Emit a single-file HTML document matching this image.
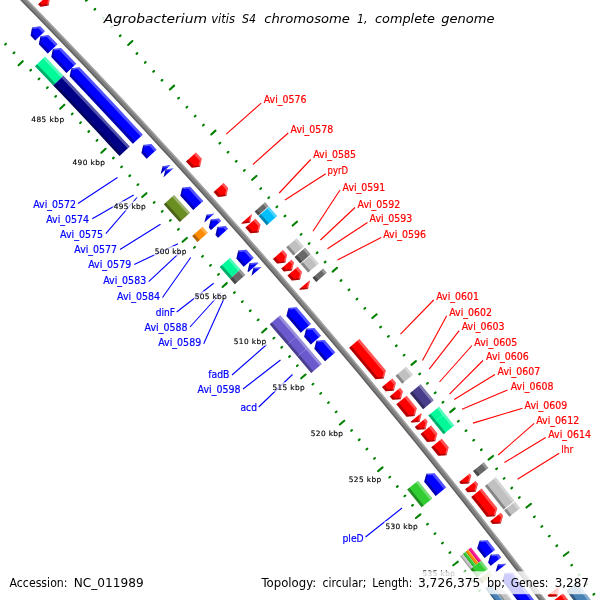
<!DOCTYPE html>
<html><head><meta charset="utf-8"><title>Agrobacterium vitis S4 chromosome 1</title>
<style>html,body{margin:0;padding:0;background:#fff}svg{display:block}</style></head>
<body><svg width="600" height="600" viewBox="0 0 600 600">
<rect width="600" height="600" fill="#fff"/>
<polygon points="35.21,40.38 44.90,31.13 40.24,26.31 32.14,27.57 30.56,35.57" fill="#0000ff"/>
<polygon points="44.90,31.13 40.24,26.31 32.14,27.57 31.82,29.18 38.29,28.18 42.95,32.99" fill="#fff" fill-opacity="0.32"/>
<polygon points="35.21,40.38 30.56,35.57 32.14,27.57 33.83,27.31 32.58,33.64 37.24,38.45" fill="#000" fill-opacity="0.30"/>
<polygon points="47.80,53.46 57.52,44.23 48.58,34.94 40.48,36.19 38.88,44.19" fill="#0000ff"/>
<polygon points="57.52,44.23 48.58,34.94 40.48,36.19 40.16,37.80 46.63,36.81 55.56,46.09" fill="#fff" fill-opacity="0.32"/>
<polygon points="47.80,53.46 38.88,44.19 40.48,36.19 42.17,35.93 40.91,42.26 49.83,51.53" fill="#000" fill-opacity="0.30"/>
<polygon points="66.46,72.96 76.20,63.77 68.62,55.82 61.02,47.88 52.91,49.11 51.30,57.10 58.88,65.03" fill="#0000ff"/>
<polygon points="76.20,63.77 68.62,55.82 61.02,47.88 52.91,49.11 52.59,50.72 59.06,49.74 66.66,57.67 74.24,65.62" fill="#fff" fill-opacity="0.32"/>
<polygon points="66.46,72.96 58.88,65.03 51.30,57.10 52.91,49.11 54.61,48.85 53.33,55.17 60.92,63.10 68.49,71.04" fill="#000" fill-opacity="0.30"/>
<polygon points="34.93,66.19 45.01,56.61 54.21,66.22 63.40,75.84 53.29,85.38 44.12,75.77" fill="#00fa9a"/>
<polygon points="43.05,58.47 45.01,56.61 54.21,66.22 63.40,75.84 61.44,77.70 52.25,68.08" fill="#fff" fill-opacity="0.32"/>
<polygon points="34.93,66.19 36.96,64.26 46.15,73.85 55.32,83.46 53.29,85.38 44.12,75.77" fill="#000" fill-opacity="0.30"/>
<polygon points="132.86,143.75 142.74,134.69 132.26,123.38 121.75,112.09 111.21,100.82 100.65,89.58 90.06,78.36 79.44,67.17 71.33,68.37 69.69,76.36 80.28,87.53 90.85,98.72 101.40,109.94 111.91,121.19 122.40,132.46" fill="#0000ff"/>
<polygon points="142.74,134.69 132.26,123.38 121.75,112.09 111.21,100.82 100.65,89.58 90.06,78.36 79.44,67.17 71.33,68.37 71.00,69.98 77.48,69.02 88.09,80.21 98.67,91.42 109.23,102.66 119.76,113.92 130.27,125.21 140.75,136.52" fill="#fff" fill-opacity="0.32"/>
<polygon points="132.86,143.75 122.40,132.46 111.91,121.19 101.40,109.94 90.85,98.72 80.28,87.53 69.69,76.36 71.33,68.37 73.02,68.12 71.72,74.44 82.32,85.61 92.90,96.81 103.45,108.04 113.97,119.29 124.46,130.56 134.93,141.86" fill="#000" fill-opacity="0.30"/>
<polygon points="53.29,85.38 63.40,75.84 74.54,87.57 85.64,99.32 96.72,111.09 107.76,122.90 118.78,134.73 129.77,146.59 119.53,155.99 108.56,144.15 97.57,132.34 86.54,120.56 75.49,108.81 64.40,97.08" fill="#000086"/>
<polygon points="61.44,77.70 63.40,75.84 74.54,87.57 85.64,99.32 96.72,111.09 107.76,122.90 118.78,134.73 129.77,146.59 127.78,148.42 116.80,136.56 105.78,124.73 94.74,112.93 83.67,101.16 72.57,89.41" fill="#fff" fill-opacity="0.32"/>
<polygon points="53.29,85.38 55.32,83.46 66.44,95.16 77.53,106.90 88.59,118.65 99.62,130.44 110.62,142.26 121.59,154.10 119.53,155.99 108.56,144.15 97.57,132.34 86.54,120.56 75.49,108.81 64.40,97.08" fill="#000" fill-opacity="0.30"/>
<polygon points="146.64,158.71 156.54,149.68 151.35,144.03 143.22,145.10 141.46,153.07" fill="#0000ff"/>
<polygon points="156.54,149.68 151.35,144.03 143.22,145.10 142.87,146.71 149.35,145.85 154.55,151.50" fill="#fff" fill-opacity="0.32"/>
<polygon points="146.64,158.71 141.46,153.07 143.22,145.10 144.92,144.87 143.52,151.18 148.71,156.82" fill="#000" fill-opacity="0.30"/>
<polygon points="160.70,174.06 170.62,165.06 170.62,165.06 162.64,166.25 160.70,174.06" fill="#0000ff"/>
<polygon points="170.62,165.06 170.62,165.06 162.64,166.25 162.25,167.83 168.62,166.88 168.62,166.88" fill="#fff" fill-opacity="0.32"/>
<polygon points="160.70,174.06 160.70,174.06 162.64,166.25 164.31,166.00 162.77,172.18 162.77,172.18" fill="#000" fill-opacity="0.30"/>
<polygon points="163.55,177.20 173.48,168.20 173.48,168.20 165.50,169.38 163.55,177.20" fill="#0000ff"/>
<polygon points="173.48,168.20 173.48,168.20 165.50,169.38 165.11,170.96 171.48,170.01 171.48,170.01" fill="#fff" fill-opacity="0.32"/>
<polygon points="163.55,177.20 163.55,177.20 165.50,169.38 167.16,169.14 165.63,175.32 165.63,175.32" fill="#000" fill-opacity="0.30"/>
<polygon points="193.20,209.95 203.18,201.01 196.76,193.88 190.33,186.76 182.20,187.76 180.37,195.72 186.79,202.83" fill="#0000ff"/>
<polygon points="203.18,201.01 196.76,193.88 190.33,186.76 182.20,187.76 181.83,189.37 188.32,188.56 194.75,195.69 201.17,202.82" fill="#fff" fill-opacity="0.32"/>
<polygon points="193.20,209.95 186.79,202.83 180.37,195.72 182.20,187.76 183.90,187.55 182.45,193.85 188.87,200.96 195.28,208.08" fill="#000" fill-opacity="0.30"/>
<polygon points="163.78,204.36 174.10,195.06 182.09,203.90 190.07,212.75 179.71,222.02 171.75,213.18" fill="#6b8e23"/>
<polygon points="172.10,196.87 174.10,195.06 182.09,203.90 190.07,212.75 188.05,214.55 180.08,205.70" fill="#fff" fill-opacity="0.32"/>
<polygon points="163.78,204.36 165.86,202.49 173.83,211.31 181.79,220.15 179.71,222.02 171.75,213.18" fill="#000" fill-opacity="0.30"/>
<polygon points="204.34,222.39 214.35,213.47 214.35,213.47 206.52,214.77 204.34,222.39" fill="#0000ff"/>
<polygon points="214.35,213.47 214.35,213.47 206.52,214.77 206.08,216.31 212.33,215.27 212.33,215.27" fill="#fff" fill-opacity="0.32"/>
<polygon points="204.34,222.39 204.34,222.39 206.52,214.77 208.16,214.50 206.44,220.53 206.44,220.53" fill="#000" fill-opacity="0.30"/>
<polygon points="211.03,229.88 221.05,220.98 218.85,218.51 210.72,219.47 208.84,227.42" fill="#0000ff"/>
<polygon points="221.05,220.98 218.85,218.51 210.72,219.47 210.34,221.07 216.83,220.31 219.03,222.78" fill="#fff" fill-opacity="0.32"/>
<polygon points="211.03,229.88 208.84,227.42 210.72,219.47 212.42,219.27 210.93,225.56 213.13,228.02" fill="#000" fill-opacity="0.30"/>
<polygon points="192.20,235.96 202.58,226.72 207.89,232.67 197.50,241.90" fill="#ff8c00"/>
<polygon points="200.56,228.51 202.58,226.72 207.89,232.67 205.88,234.46" fill="#fff" fill-opacity="0.32"/>
<polygon points="192.20,235.96 194.29,234.10 199.60,240.04 197.50,241.90" fill="#000" fill-opacity="0.30"/>
<polygon points="218.03,237.75 228.07,228.86 225.55,226.03 217.41,226.97 215.52,234.92" fill="#0000ff"/>
<polygon points="228.07,228.86 225.55,226.03 217.41,226.97 217.03,228.57 223.53,227.82 226.04,230.65" fill="#fff" fill-opacity="0.32"/>
<polygon points="218.03,237.75 215.52,234.92 217.41,226.97 219.11,226.77 217.61,233.06 220.13,235.89" fill="#000" fill-opacity="0.30"/>
<polygon points="243.67,266.78 253.75,257.95 246.44,249.64 238.31,250.54 236.38,258.48" fill="#0000ff"/>
<polygon points="253.75,257.95 246.44,249.64 238.31,250.54 237.92,252.14 244.41,251.42 251.72,259.73" fill="#fff" fill-opacity="0.32"/>
<polygon points="243.67,266.78 236.38,258.48 238.31,250.54 240.01,250.35 238.48,256.64 245.78,264.94" fill="#000" fill-opacity="0.30"/>
<polygon points="219.69,266.93 230.13,257.74 240.51,269.55 230.06,278.71" fill="#00fa9a"/>
<polygon points="228.10,259.53 230.13,257.74 240.51,269.55 238.48,271.33" fill="#fff" fill-opacity="0.32"/>
<polygon points="219.69,266.93 221.79,265.08 232.16,276.86 230.06,278.71" fill="#000" fill-opacity="0.30"/>
<polygon points="248.30,272.06 258.39,263.24 257.65,262.39 249.51,263.28 247.56,271.21" fill="#0000ff"/>
<polygon points="258.39,263.24 257.65,262.39 249.51,263.28 249.12,264.88 255.61,264.17 256.36,265.02" fill="#fff" fill-opacity="0.32"/>
<polygon points="248.30,272.06 247.56,271.21 249.51,263.28 251.21,263.09 249.67,269.37 250.41,270.22" fill="#000" fill-opacity="0.30"/>
<polygon points="230.06,278.71 240.51,269.55 245.30,275.01 234.83,284.16" fill="#696969"/>
<polygon points="238.48,271.33 240.51,269.55 245.30,275.01 243.27,276.78" fill="#fff" fill-opacity="0.32"/>
<polygon points="230.06,278.71 232.16,276.86 236.94,282.31 234.83,284.16" fill="#000" fill-opacity="0.30"/>
<polygon points="251.49,275.70 261.58,266.89 261.58,266.89 253.50,267.83 251.49,275.70" fill="#0000ff"/>
<polygon points="261.58,266.89 261.58,266.89 253.50,267.83 253.10,269.42 259.55,268.66 259.55,268.66" fill="#fff" fill-opacity="0.32"/>
<polygon points="251.49,275.70 251.49,275.70 253.50,267.83 255.19,267.63 253.60,273.86 253.60,273.86" fill="#000" fill-opacity="0.30"/>
<polygon points="300.72,332.66 310.91,323.95 303.76,315.60 296.60,307.26 288.46,308.08 286.44,316.00 293.59,324.32" fill="#0000ff"/>
<polygon points="310.91,323.95 303.76,315.60 296.60,307.26 288.46,308.08 288.05,309.67 294.55,309.02 301.71,317.36 308.85,325.71" fill="#fff" fill-opacity="0.32"/>
<polygon points="300.72,332.66 293.59,324.32 286.44,316.00 288.46,308.08 290.16,307.91 288.56,314.18 295.71,322.50 302.85,330.84" fill="#000" fill-opacity="0.30"/>
<polygon points="269.67,324.26 280.20,315.19 288.95,325.37 297.68,335.57 287.12,344.61 278.40,334.42" fill="#6a5acd"/>
<polygon points="278.15,316.95 280.20,315.19 288.95,325.37 297.68,335.57 295.63,337.33 286.90,327.13" fill="#fff" fill-opacity="0.32"/>
<polygon points="269.67,324.26 271.79,322.43 280.53,332.60 289.25,342.79 287.12,344.61 278.40,334.42" fill="#000" fill-opacity="0.30"/>
<polygon points="310.77,344.45 320.97,335.77 314.35,327.99 306.21,328.77 304.16,336.69" fill="#0000ff"/>
<polygon points="320.97,335.77 314.35,327.99 306.21,328.77 305.79,330.36 312.29,329.74 318.92,337.52" fill="#fff" fill-opacity="0.32"/>
<polygon points="310.77,344.45 304.16,336.69 306.21,328.77 307.91,328.60 306.29,334.87 312.90,342.64" fill="#000" fill-opacity="0.30"/>
<polygon points="287.12,344.61 297.68,335.57 307.88,347.54 297.30,356.55" fill="#6a5acd"/>
<polygon points="295.63,337.33 297.68,335.57 307.88,347.54 305.83,349.29" fill="#fff" fill-opacity="0.32"/>
<polygon points="287.12,344.61 289.25,342.79 299.43,354.74 297.30,356.55" fill="#000" fill-opacity="0.30"/>
<polygon points="325.01,361.26 335.24,352.61 324.56,339.99 316.42,340.76 314.35,348.67" fill="#0000ff"/>
<polygon points="335.24,352.61 324.56,339.99 316.42,340.76 316.00,342.35 322.50,341.74 333.18,354.35" fill="#fff" fill-opacity="0.32"/>
<polygon points="325.01,361.26 314.35,348.67 316.42,340.76 318.12,340.60 316.48,346.86 327.15,359.45" fill="#000" fill-opacity="0.30"/>
<polygon points="297.30,356.55 307.88,347.54 314.85,355.75 321.80,363.97 311.19,372.95 304.25,364.75" fill="#6a5acd"/>
<polygon points="305.83,349.29 307.88,347.54 314.85,355.75 321.80,363.97 319.74,365.72 312.79,357.50" fill="#fff" fill-opacity="0.32"/>
<polygon points="297.30,356.55 299.43,354.74 306.39,362.93 313.33,371.14 311.19,372.95 304.25,364.75" fill="#000" fill-opacity="0.30"/>
<polygon points="435.63,495.93 446.07,487.53 440.34,480.37 434.60,473.22 426.45,473.78 424.18,481.65 429.91,488.79" fill="#0000ff"/>
<polygon points="446.07,487.53 440.34,480.37 434.60,473.22 426.45,473.78 426.00,475.36 432.50,474.92 438.24,482.07 443.97,489.22" fill="#fff" fill-opacity="0.32"/>
<polygon points="435.63,495.93 429.91,488.79 424.18,481.65 426.45,473.78 428.15,473.66 426.36,479.89 432.09,487.03 437.82,494.18" fill="#000" fill-opacity="0.30"/>
<polygon points="407.18,489.39 417.98,480.64 425.18,489.60 432.36,498.57 421.54,507.28 414.37,498.33" fill="#32cd32"/>
<polygon points="415.89,482.34 417.98,480.64 425.18,489.60 432.36,498.57 430.26,500.26 423.08,491.29" fill="#fff" fill-opacity="0.32"/>
<polygon points="407.18,489.39 409.36,487.63 416.55,496.57 423.72,505.53 421.54,507.28 414.37,498.33" fill="#000" fill-opacity="0.30"/>
<polygon points="484.60,557.97 495.12,549.69 487.72,540.20 479.57,540.66 477.20,548.50" fill="#0000ff"/>
<polygon points="495.12,549.69 487.72,540.20 479.57,540.66 479.09,542.24 485.60,541.87 493.00,551.36" fill="#fff" fill-opacity="0.32"/>
<polygon points="484.60,557.97 477.20,548.50 479.57,540.66 481.27,540.56 479.40,546.77 486.80,556.24" fill="#000" fill-opacity="0.30"/>
<polygon points="468.29,549.57 471.02,547.42 481.29,560.57 478.56,562.72" fill="#ff1493"/>
<polygon points="470.49,547.84 471.02,547.42 481.29,560.57 480.76,560.99" fill="#fff" fill-opacity="0.32"/>
<polygon points="468.29,549.57 468.84,549.14 479.11,562.29 478.56,562.72" fill="#000" fill-opacity="0.30"/>
<polygon points="465.57,551.73 468.29,549.57 478.56,562.72 475.83,564.87" fill="#ff8c00"/>
<polygon points="467.76,549.99 468.29,549.57 478.56,562.72 478.03,563.14" fill="#fff" fill-opacity="0.32"/>
<polygon points="465.57,551.73 466.11,551.29 476.38,564.44 475.83,564.87" fill="#000" fill-opacity="0.30"/>
<polygon points="462.84,553.88 465.57,551.73 475.83,564.87 473.10,567.02" fill="#32cd32"/>
<polygon points="465.04,552.15 465.57,551.73 475.83,564.87 475.30,565.29" fill="#fff" fill-opacity="0.32"/>
<polygon points="462.84,553.88 463.39,553.45 473.65,566.59 473.10,567.02" fill="#000" fill-opacity="0.30"/>
<polygon points="460.11,556.04 462.84,553.88 473.10,567.02 470.37,569.17" fill="#c0c0c0"/>
<polygon points="462.31,554.30 462.84,553.88 473.10,567.02 472.57,567.44" fill="#fff" fill-opacity="0.32"/>
<polygon points="460.11,556.04 460.66,555.61 470.92,568.73 470.37,569.17" fill="#000" fill-opacity="0.30"/>
<polygon points="490.69,565.81 501.23,557.53 498.68,554.25 490.53,554.69 488.14,562.53" fill="#0000ff"/>
<polygon points="501.23,557.53 498.68,554.25 490.53,554.69 490.05,556.27 496.56,555.92 499.11,559.20" fill="#fff" fill-opacity="0.32"/>
<polygon points="490.69,565.81 488.14,562.53 490.53,554.69 492.23,554.60 490.34,560.80 492.89,564.08" fill="#000" fill-opacity="0.30"/>
<polygon points="470.37,569.17 481.29,560.57 487.76,568.88 476.82,577.46" fill="#32cd32"/>
<polygon points="479.17,562.24 481.29,560.57 487.76,568.88 485.63,570.54" fill="#fff" fill-opacity="0.32"/>
<polygon points="470.37,569.17 472.57,567.44 479.02,575.73 476.82,577.46" fill="#000" fill-opacity="0.30"/>
<polygon points="495.66,572.21 506.21,563.95 506.12,563.83 497.97,564.25 495.57,572.09" fill="#0000ff"/>
<polygon points="506.21,563.95 506.12,563.83 497.97,564.25 497.48,565.83 503.99,565.49 504.08,565.62" fill="#fff" fill-opacity="0.32"/>
<polygon points="495.66,572.21 495.57,572.09 497.97,564.25 499.67,564.16 497.77,570.36 497.86,570.49" fill="#000" fill-opacity="0.30"/>
<polygon points="478.45,579.55 489.39,570.98 492.72,575.28 481.78,583.85" fill="#bdb76b"/>
<polygon points="487.26,572.64 489.39,570.98 492.72,575.28 490.60,576.94" fill="#fff" fill-opacity="0.32"/>
<polygon points="478.45,579.55 480.65,577.83 483.98,582.12 481.78,583.85" fill="#000" fill-opacity="0.30"/>
<polygon points="557.15,652.86 567.81,644.75 556.92,630.27 545.99,615.82 535.01,601.40 524.00,587.01 512.94,572.65 504.79,573.06 502.38,580.90 513.41,595.23 524.41,609.59 535.36,623.98 546.27,638.41" fill="#0000ff"/>
<polygon points="567.81,644.75 556.92,630.27 545.99,615.82 535.01,601.40 524.00,587.01 512.94,572.65 504.79,573.06 504.31,574.64 510.81,574.31 521.86,588.67 532.87,603.05 543.84,617.46 554.77,631.91 565.66,646.38" fill="#fff" fill-opacity="0.32"/>
<polygon points="557.15,652.86 546.27,638.41 535.36,623.98 524.41,609.59 513.41,595.23 502.38,580.90 504.79,573.06 506.49,572.98 504.58,579.17 515.62,593.51 526.62,607.88 537.58,622.28 548.50,636.71 559.38,651.17" fill="#000" fill-opacity="0.30"/>
<polygon points="490.73,584.05 496.20,579.78 505.88,592.32 515.53,604.89 525.14,617.48 534.73,630.10 544.28,642.74 553.80,655.40 548.27,659.61 538.76,646.96 529.21,634.33 519.64,621.73 510.03,609.15 500.40,596.59" fill="#c0c0c0"/>
<polygon points="495.14,580.61 496.20,579.78 505.88,592.32 515.53,604.89 525.14,617.48 534.73,630.10 544.28,642.74 553.80,655.40 552.73,656.22 543.21,643.56 533.66,630.92 524.07,618.31 514.46,605.72 504.82,593.15" fill="#fff" fill-opacity="0.32"/>
<polygon points="490.73,584.05 491.83,583.19 501.50,595.73 511.14,608.29 520.75,620.87 530.32,633.48 539.87,646.11 549.39,658.76 548.27,659.61 538.76,646.96 529.21,634.33 519.64,621.73 510.03,609.15 500.40,596.59" fill="#000" fill-opacity="0.30"/>
<polygon points="485.25,588.33 490.73,584.05 500.40,596.59 510.03,609.15 519.64,621.73 529.21,634.33 538.76,646.96 548.27,659.61 542.74,663.82 533.24,651.18 523.70,638.56 514.13,625.97 504.54,613.40 494.91,600.86" fill="#4682b4"/>
<polygon points="489.66,584.89 490.73,584.05 500.40,596.59 510.03,609.15 519.64,621.73 529.21,634.33 538.76,646.96 548.27,659.61 547.20,660.43 537.69,647.78 528.14,635.15 518.57,622.55 508.97,609.97 499.33,597.42" fill="#fff" fill-opacity="0.32"/>
<polygon points="485.25,588.33 486.35,587.47 496.01,600.00 505.64,612.55 515.24,625.12 524.81,637.71 534.35,650.33 543.85,662.97 542.74,663.82 533.24,651.18 523.70,638.56 514.13,625.97 504.54,613.40 494.91,600.86" fill="#000" fill-opacity="0.30"/>
<polygon points="38.14,4.33 47.80,-4.96 50.12,-2.58 48.56,5.44 40.45,6.70" fill="#ff0000"/>
<polygon points="47.80,-4.96 50.12,-2.58 48.56,5.44 46.93,5.69 48.17,-0.71 45.86,-3.09" fill="#fff" fill-opacity="0.32"/>
<polygon points="38.14,4.33 40.45,6.70 48.56,5.44 48.89,3.76 42.47,4.76 40.16,2.39" fill="#000" fill-opacity="0.30"/>
<polygon points="186.00,161.45 195.93,152.45 201.77,158.87 199.96,166.85 191.82,167.85" fill="#ff0000"/>
<polygon points="195.93,152.45 201.77,158.87 199.96,166.85 198.32,167.05 199.76,160.68 193.93,154.26" fill="#fff" fill-opacity="0.32"/>
<polygon points="186.00,161.45 191.82,167.85 199.96,166.85 200.34,165.18 193.90,165.98 188.07,159.57" fill="#000" fill-opacity="0.30"/>
<polygon points="213.63,191.99 223.61,183.06 228.11,188.06 226.25,196.03 218.11,196.99" fill="#ff0000"/>
<polygon points="223.61,183.06 228.11,188.06 226.25,196.03 224.61,196.22 226.09,189.86 221.60,184.86" fill="#fff" fill-opacity="0.32"/>
<polygon points="213.63,191.99 218.11,196.99 226.25,196.03 226.64,194.37 220.20,195.12 215.71,190.12" fill="#000" fill-opacity="0.30"/>
<polygon points="241.46,223.17 251.50,214.29 251.92,214.77 250.03,222.73 241.89,223.65" fill="#ff0000"/>
<polygon points="251.50,214.29 251.92,214.77 250.03,222.73 248.39,222.92 249.90,216.56 249.48,216.08" fill="#fff" fill-opacity="0.32"/>
<polygon points="241.46,223.17 241.89,223.65 250.03,222.73 250.43,221.07 243.98,221.79 243.56,221.31" fill="#000" fill-opacity="0.30"/>
<polygon points="254.64,211.51 265.06,202.30 268.62,206.31 258.20,215.52" fill="#696969"/>
<polygon points="263.03,204.09 265.06,202.30 268.62,206.31 266.59,208.10" fill="#fff" fill-opacity="0.32"/>
<polygon points="254.64,211.51 256.74,209.65 260.30,213.66 258.20,215.52" fill="#000" fill-opacity="0.30"/>
<polygon points="245.41,227.62 255.45,218.75 260.48,224.43 258.57,232.39 250.42,233.29" fill="#ff0000"/>
<polygon points="255.45,218.75 260.48,224.43 258.57,232.39 256.93,232.57 258.45,226.22 253.43,220.54" fill="#fff" fill-opacity="0.32"/>
<polygon points="245.41,227.62 250.42,233.29 258.57,232.39 258.97,230.73 252.52,231.44 247.51,225.77" fill="#000" fill-opacity="0.30"/>
<polygon points="258.60,215.97 269.02,206.77 277.18,216.01 266.75,225.19" fill="#00bfff"/>
<polygon points="267.00,208.56 269.02,206.77 277.18,216.01 275.16,217.79" fill="#fff" fill-opacity="0.32"/>
<polygon points="258.60,215.97 260.70,214.12 268.85,223.34 266.75,225.19" fill="#000" fill-opacity="0.30"/>
<polygon points="272.94,258.91 283.03,250.10 287.14,254.80 285.18,262.75 277.04,263.60" fill="#ff0000"/>
<polygon points="283.03,250.10 287.14,254.80 285.18,262.75 283.54,262.92 285.10,256.57 281.00,251.87" fill="#fff" fill-opacity="0.32"/>
<polygon points="272.94,258.91 277.04,263.60 285.18,262.75 285.59,261.09 279.15,261.76 275.05,257.07" fill="#000" fill-opacity="0.30"/>
<polygon points="286.20,247.34 296.67,238.20 303.89,246.47 293.40,255.59" fill="#c0c0c0"/>
<polygon points="294.63,239.97 296.67,238.20 303.89,246.47 301.85,248.24" fill="#fff" fill-opacity="0.32"/>
<polygon points="286.20,247.34 288.31,245.49 295.52,253.76 293.40,255.59" fill="#000" fill-opacity="0.30"/>
<polygon points="281.32,268.52 291.43,259.73 293.93,262.60 291.97,270.55 283.82,271.39" fill="#ff0000"/>
<polygon points="291.43,259.73 293.93,262.60 291.97,270.55 290.32,270.72 291.90,264.37 289.40,261.50" fill="#fff" fill-opacity="0.32"/>
<polygon points="281.32,268.52 283.82,271.39 291.97,270.55 292.38,268.89 285.93,269.55 283.44,266.69" fill="#000" fill-opacity="0.30"/>
<polygon points="294.60,256.97 305.09,247.85 310.70,254.30 300.20,263.41" fill="#696969"/>
<polygon points="303.05,249.62 305.09,247.85 310.70,254.30 308.66,256.07" fill="#fff" fill-opacity="0.32"/>
<polygon points="294.60,256.97 296.72,255.14 302.31,261.57 300.20,263.41" fill="#000" fill-opacity="0.30"/>
<polygon points="287.46,275.58 297.58,266.80 301.91,271.79 299.93,279.74 291.78,280.56" fill="#ff0000"/>
<polygon points="297.58,266.80 301.91,271.79 299.93,279.74 298.29,279.90 299.87,273.56 295.54,268.57" fill="#fff" fill-opacity="0.32"/>
<polygon points="287.46,275.58 291.78,280.56 299.93,279.74 300.35,278.08 293.90,278.73 289.58,273.75" fill="#000" fill-opacity="0.30"/>
<polygon points="300.76,264.05 311.26,254.94 318.69,263.52 308.18,272.61" fill="#c0c0c0"/>
<polygon points="309.22,256.71 311.26,254.94 318.69,263.52 316.65,265.28" fill="#fff" fill-opacity="0.32"/>
<polygon points="300.76,264.05 302.87,262.22 310.29,270.78 308.18,272.61" fill="#000" fill-opacity="0.30"/>
<polygon points="299.23,289.18 309.38,280.42 309.95,281.09 307.96,289.04 299.81,289.85" fill="#ff0000"/>
<polygon points="309.38,280.42 309.95,281.09 307.96,289.04 306.32,289.20 307.91,282.86 307.33,282.19" fill="#fff" fill-opacity="0.32"/>
<polygon points="299.23,289.18 299.81,289.85 307.96,289.04 308.38,287.38 301.93,288.02 301.35,287.35" fill="#000" fill-opacity="0.30"/>
<polygon points="312.56,277.68 323.08,268.60 326.74,272.85 316.21,281.92" fill="#696969"/>
<polygon points="321.03,270.36 323.08,268.60 326.74,272.85 324.70,274.61" fill="#fff" fill-opacity="0.32"/>
<polygon points="312.56,277.68 314.67,275.85 318.34,280.09 316.21,281.92" fill="#000" fill-opacity="0.30"/>
<polygon points="349.14,347.69 359.38,339.04 368.21,349.54 377.03,360.07 385.82,370.61 383.69,378.52 375.53,379.20 366.76,368.67 357.96,358.17" fill="#ff0000"/>
<polygon points="359.38,339.04 368.21,349.54 377.03,360.07 385.82,370.61 383.69,378.52 382.04,378.66 383.74,372.34 374.96,361.80 366.15,351.28 357.32,340.78" fill="#fff" fill-opacity="0.32"/>
<polygon points="349.14,347.69 357.96,358.17 366.76,368.67 375.53,379.20 383.69,378.52 384.13,376.87 377.68,377.40 368.90,366.88 360.10,356.37 351.28,345.88" fill="#000" fill-opacity="0.30"/>
<polygon points="382.03,387.02 392.33,378.45 395.92,382.78 393.77,390.69 385.62,391.35" fill="#ff0000"/>
<polygon points="392.33,378.45 395.92,382.78 393.77,390.69 392.13,390.83 393.85,384.51 390.25,380.17" fill="#fff" fill-opacity="0.32"/>
<polygon points="382.03,387.02 385.62,391.35 393.77,390.69 394.22,389.04 387.77,389.56 384.18,385.23" fill="#000" fill-opacity="0.30"/>
<polygon points="395.56,375.76 406.24,366.87 412.86,374.85 402.16,383.73" fill="#c0c0c0"/>
<polygon points="404.17,368.59 406.24,366.87 412.86,374.85 410.78,376.58" fill="#fff" fill-opacity="0.32"/>
<polygon points="395.56,375.76 397.71,373.97 404.31,381.94 402.16,383.73" fill="#000" fill-opacity="0.30"/>
<polygon points="389.78,396.38 400.09,387.82 402.90,391.23 400.74,399.14 392.59,399.78" fill="#ff0000"/>
<polygon points="400.09,387.82 402.90,391.23 400.74,399.14 399.10,399.26 400.82,392.95 398.01,389.55" fill="#fff" fill-opacity="0.32"/>
<polygon points="389.78,396.38 392.59,399.78 400.74,399.14 401.19,397.48 394.74,397.99 391.93,394.59" fill="#000" fill-opacity="0.30"/>
<polygon points="396.35,404.34 406.68,395.80 416.82,408.15 414.63,416.05 406.48,416.67" fill="#ff0000"/>
<polygon points="406.68,395.80 416.82,408.15 414.63,416.05 412.99,416.18 414.74,409.87 404.60,397.52" fill="#fff" fill-opacity="0.32"/>
<polygon points="396.35,404.34 406.48,416.67 414.63,416.05 415.09,414.40 408.64,414.89 398.51,402.56" fill="#000" fill-opacity="0.30"/>
<polygon points="409.91,393.13 420.62,384.27 427.21,392.28 433.79,400.30 423.05,409.13 416.49,401.12" fill="#483d8b"/>
<polygon points="418.54,385.99 420.62,384.27 427.21,392.28 433.79,400.30 431.70,402.01 425.13,394.00" fill="#fff" fill-opacity="0.32"/>
<polygon points="409.91,393.13 412.07,391.34 418.65,399.34 425.21,407.35 423.05,409.13 416.49,401.12" fill="#000" fill-opacity="0.30"/>
<polygon points="410.61,421.72 420.96,413.21 421.68,414.08 419.48,421.98 411.32,422.59" fill="#ff0000"/>
<polygon points="420.96,413.21 421.68,414.08 419.48,421.98 417.84,422.11 419.59,415.80 418.88,414.92" fill="#fff" fill-opacity="0.32"/>
<polygon points="410.61,421.72 411.32,422.59 419.48,421.98 419.94,420.33 413.49,420.81 412.77,419.94" fill="#000" fill-opacity="0.30"/>
<polygon points="414.84,426.89 425.20,418.39 427.60,421.34 425.40,429.24 417.24,429.84" fill="#ff0000"/>
<polygon points="425.20,418.39 427.60,421.34 425.40,429.24 423.75,429.36 425.52,423.06 423.11,420.11" fill="#fff" fill-opacity="0.32"/>
<polygon points="414.84,426.89 417.24,429.84 425.40,429.24 425.86,427.59 419.41,428.06 417.00,425.12" fill="#000" fill-opacity="0.30"/>
<polygon points="428.29,415.54 439.04,406.72 444.74,413.72 433.98,422.53" fill="#00fa9a"/>
<polygon points="436.95,408.44 439.04,406.72 444.74,413.72 442.65,415.43" fill="#fff" fill-opacity="0.32"/>
<polygon points="428.29,415.54 430.46,413.76 436.15,420.75 433.98,422.53" fill="#000" fill-opacity="0.30"/>
<polygon points="420.59,433.96 430.97,425.47 437.43,433.43 435.21,441.33 427.05,441.90" fill="#ff0000"/>
<polygon points="430.97,425.47 437.43,433.43 435.21,441.33 433.56,441.44 435.34,435.14 428.88,427.18" fill="#fff" fill-opacity="0.32"/>
<polygon points="420.59,433.96 427.05,441.90 435.21,441.33 435.67,439.68 429.22,440.13 422.76,432.18" fill="#000" fill-opacity="0.30"/>
<polygon points="433.98,422.53 444.74,413.72 454.28,425.47 443.50,434.25" fill="#00fa9a"/>
<polygon points="442.65,415.43 444.74,413.72 454.28,425.47 452.19,427.18" fill="#fff" fill-opacity="0.32"/>
<polygon points="433.98,422.53 436.15,420.75 445.68,432.48 443.50,434.25" fill="#000" fill-opacity="0.30"/>
<polygon points="431.31,447.16 441.70,438.70 448.69,447.34 446.44,455.23 438.28,455.79" fill="#ff0000"/>
<polygon points="441.70,438.70 448.69,447.34 446.44,455.23 444.80,455.34 446.59,449.04 439.61,440.41" fill="#fff" fill-opacity="0.32"/>
<polygon points="431.31,447.16 438.28,455.79 446.44,455.23 446.91,453.58 440.46,454.02 433.48,445.39" fill="#000" fill-opacity="0.30"/>
<polygon points="459.32,482.01 469.77,473.61 471.31,475.54 469.02,483.42 460.86,483.94" fill="#ff0000"/>
<polygon points="469.77,473.61 471.31,475.54 469.02,483.42 467.37,483.52 469.20,477.23 467.66,475.30" fill="#fff" fill-opacity="0.32"/>
<polygon points="459.32,482.01 460.86,483.94 469.02,483.42 469.50,481.78 463.04,482.18 461.51,480.26" fill="#000" fill-opacity="0.30"/>
<polygon points="473.04,470.98 483.87,462.27 488.36,467.90 477.52,476.60" fill="#696969"/>
<polygon points="481.77,463.96 483.87,462.27 488.36,467.90 486.25,469.59" fill="#fff" fill-opacity="0.32"/>
<polygon points="473.04,470.98 475.22,469.23 479.70,474.85 477.52,476.60" fill="#000" fill-opacity="0.30"/>
<polygon points="465.15,489.33 475.61,480.94 477.98,483.92 475.68,491.80 467.52,492.30" fill="#ff0000"/>
<polygon points="475.61,480.94 477.98,483.92 475.68,491.80 474.03,491.90 475.87,485.61 473.50,482.63" fill="#fff" fill-opacity="0.32"/>
<polygon points="465.15,489.33 467.52,492.30 475.68,491.80 476.16,490.15 469.70,490.55 467.34,487.57" fill="#000" fill-opacity="0.30"/>
<polygon points="471.20,496.93 481.67,488.57 489.50,498.45 497.31,508.36 494.97,516.23 486.81,516.69 479.02,506.81" fill="#ff0000"/>
<polygon points="481.67,488.57 489.50,498.45 497.31,508.36 494.97,516.23 493.33,516.32 495.19,510.04 487.38,500.14 479.56,490.25" fill="#fff" fill-opacity="0.32"/>
<polygon points="471.20,496.93 479.02,506.81 486.81,516.69 494.97,516.23 495.46,514.58 489.01,514.95 481.21,505.06 473.39,495.19" fill="#000" fill-opacity="0.30"/>
<polygon points="484.95,485.94 495.80,477.26 505.12,489.03 514.40,500.82 503.51,509.45 494.24,497.69" fill="#c0c0c0"/>
<polygon points="493.69,478.95 495.80,477.26 505.12,489.03 514.40,500.82 512.29,502.50 503.00,490.71" fill="#fff" fill-opacity="0.32"/>
<polygon points="484.95,485.94 487.13,484.19 496.43,495.94 505.71,507.71 503.51,509.45 494.24,497.69" fill="#000" fill-opacity="0.30"/>
<polygon points="490.32,521.15 500.82,512.83 503.10,515.73 500.75,523.59 492.59,524.05" fill="#ff0000"/>
<polygon points="500.82,512.83 503.10,515.73 500.75,523.59 499.11,523.68 500.98,517.40 498.71,514.51" fill="#fff" fill-opacity="0.32"/>
<polygon points="490.32,521.15 492.59,524.05 500.75,523.59 501.24,521.95 494.79,522.31 492.52,519.41" fill="#000" fill-opacity="0.30"/>
<polygon points="504.11,510.22 515.01,501.59 520.20,508.21 509.30,516.83" fill="#c0c0c0"/>
<polygon points="512.89,503.26 515.01,501.59 520.20,508.21 518.09,509.88" fill="#fff" fill-opacity="0.32"/>
<polygon points="504.11,510.22 506.31,508.48 511.50,515.09 509.30,516.83" fill="#000" fill-opacity="0.30"/>
<polygon points="547.65,595.22 558.26,587.03 559.46,588.61 557.01,596.45 548.85,596.79" fill="#ff0000"/>
<polygon points="558.26,587.03 559.46,588.61 557.01,596.45 555.37,596.52 557.33,590.26 556.12,588.68" fill="#fff" fill-opacity="0.32"/>
<polygon points="547.65,595.22 548.85,596.79 557.01,596.45 557.52,594.81 551.07,595.08 549.87,593.51" fill="#000" fill-opacity="0.30"/>
<polygon points="552.44,601.50 563.06,593.33 570.94,603.71 578.80,614.10 586.63,624.52 584.13,632.34 575.97,632.63 568.15,622.24 560.30,611.86" fill="#ff0000"/>
<polygon points="563.06,593.33 570.94,603.71 578.80,614.10 586.63,624.52 584.13,632.34 582.49,632.40 584.49,626.15 576.65,615.74 568.79,605.35 560.92,594.97" fill="#fff" fill-opacity="0.32"/>
<polygon points="552.44,601.50 560.30,611.86 568.15,622.24 575.97,632.63 584.13,632.34 584.65,630.71 578.20,630.94 570.37,620.54 562.53,610.16 554.66,599.79" fill="#000" fill-opacity="0.30"/>
<polygon points="566.38,590.76 577.40,582.28 586.25,593.94 595.07,605.63 603.87,617.33 592.81,625.74 584.03,614.06 575.22,602.40" fill="#4682b4"/>
<polygon points="575.26,583.93 577.40,582.28 586.25,593.94 595.07,605.63 603.87,617.33 601.72,618.96 592.93,607.27 584.10,595.59" fill="#fff" fill-opacity="0.32"/>
<polygon points="566.38,590.76 568.60,589.05 577.44,600.70 586.25,612.36 595.04,624.05 592.81,625.74 584.03,614.06 575.22,602.40" fill="#000" fill-opacity="0.30"/>
<polygon points="5.43,-23.00 13.95,-14.35 22.45,-5.68 30.93,3.01 39.39,11.71 47.84,20.43 56.28,29.16 64.69,37.91 73.09,46.68 81.48,55.46 89.85,64.26 98.20,73.07 106.53,81.90 114.85,90.74 123.15,99.60 131.44,108.48 139.71,117.37 147.96,126.27 156.20,135.20 164.42,144.13 172.62,153.09 180.80,162.05 188.97,171.04 197.12,180.04 205.26,189.05 213.38,198.08 221.48,207.12 229.57,216.18 237.63,225.26 245.68,234.35 253.72,243.45 261.74,252.57 269.74,261.70 277.72,270.85 285.68,280.02 293.63,289.20 301.56,298.39 309.48,307.60 317.38,316.82 325.26,326.06 333.12,335.32 340.96,344.58 348.79,353.87 356.60,363.16 364.39,372.47 372.17,381.80 379.93,391.14 387.67,400.50 395.39,409.87 403.10,419.25 410.78,428.65 418.46,438.06 426.11,447.49 433.74,456.93 441.36,466.38 448.96,475.85 456.54,485.34 464.11,494.84 471.65,504.35 479.18,513.87 486.69,523.41 494.18,532.97 501.66,542.53 509.12,552.12 516.55,561.71 523.98,571.32 531.38,580.94 538.76,590.58 546.13,600.23 553.48,609.90 560.81,619.57 568.12,629.26 575.41,638.97 582.69,648.69 578.23,652.07 570.96,642.36 563.67,632.66 556.36,622.98 549.04,613.31 541.69,603.65 534.33,594.01 526.96,584.38 519.56,574.76 512.14,565.16 504.71,555.57 497.26,546.00 489.79,536.44 482.30,526.89 474.80,517.36 467.28,507.84 459.74,498.34 452.18,488.85 444.60,479.37 437.01,469.91 429.40,460.46 421.77,451.03 414.12,441.61 406.46,432.20 398.77,422.81 391.07,413.43 383.36,404.07 375.62,394.72 367.87,385.39 360.10,376.07 352.31,366.77 344.51,357.48 336.69,348.20 328.85,338.94 320.99,329.70 313.12,320.46 305.23,311.25 297.32,302.05 289.40,292.86 281.45,283.69 273.49,274.53 265.52,265.39 257.52,256.26 249.51,247.15 241.48,238.05 233.44,228.97 225.38,219.90 217.30,210.85 209.20,201.81 201.09,192.79 192.96,183.78 184.82,174.79 176.65,165.81 168.47,156.85 160.28,147.91 152.07,138.98 143.84,130.06 135.59,121.16 127.33,112.28 119.05,103.41 110.75,94.56 102.44,85.72 94.11,76.90 85.77,68.09 77.40,59.30 69.03,50.53 60.63,41.77 52.22,33.03 43.80,24.30 35.35,15.59 26.89,6.89 18.42,-1.79 9.93,-10.45 1.42,-19.10" fill="#808080"/>
<polygon points="5.43,-23.00 13.95,-14.35 22.45,-5.68 30.93,3.01 39.39,11.71 47.84,20.43 56.28,29.16 64.69,37.91 73.09,46.68 81.48,55.46 89.85,64.26 98.20,73.07 106.53,81.90 114.85,90.74 123.15,99.60 131.44,108.48 139.71,117.37 147.96,126.27 156.20,135.20 164.42,144.13 172.62,153.09 180.80,162.05 188.97,171.04 197.12,180.04 205.26,189.05 213.38,198.08 221.48,207.12 229.57,216.18 237.63,225.26 245.68,234.35 253.72,243.45 261.74,252.57 269.74,261.70 277.72,270.85 285.68,280.02 293.63,289.20 301.56,298.39 309.48,307.60 317.38,316.82 325.26,326.06 333.12,335.32 340.96,344.58 348.79,353.87 356.60,363.16 364.39,372.47 372.17,381.80 379.93,391.14 387.67,400.50 395.39,409.87 403.10,419.25 410.78,428.65 418.46,438.06 426.11,447.49 433.74,456.93 441.36,466.38 448.96,475.85 456.54,485.34 464.11,494.84 471.65,504.35 479.18,513.87 486.69,523.41 494.18,532.97 501.66,542.53 509.12,552.12 516.55,561.71 523.98,571.32 531.38,580.94 538.76,590.58 546.13,600.23 553.48,609.90 560.81,619.57 568.12,629.26 575.41,638.97 582.69,648.69 581.53,649.56 574.26,639.85 566.97,630.14 559.66,620.45 552.33,610.78 544.98,601.12 537.62,591.47 530.23,581.83 522.83,572.21 515.41,562.60 507.97,553.01 500.52,543.43 493.05,533.87 485.56,524.31 478.05,514.78 470.52,505.25 462.97,495.74 455.41,486.25 447.83,476.76 440.23,467.30 432.62,457.84 424.98,448.40 417.33,438.98 409.66,429.57 401.98,420.17 394.27,410.79 386.55,401.42 378.81,392.07 371.06,382.73 363.28,373.41 355.49,364.10 347.68,354.80 339.86,345.52 332.01,336.25 324.15,327.00 316.27,317.77 308.38,308.54 300.47,299.34 292.54,290.15 284.59,280.97 276.62,271.81 268.64,262.66 260.64,253.53 252.63,244.41 244.60,235.30 236.55,226.22 228.48,217.14 220.40,208.09 212.30,199.04 204.18,190.02 196.05,181.01 187.90,172.01 179.73,163.03 171.54,154.06 163.34,145.11 155.13,136.18 146.89,127.26 138.64,118.35 130.37,109.46 122.09,100.59 113.79,91.73 105.47,82.89 97.14,74.06 88.79,65.25 80.42,56.46 72.04,47.68 63.64,38.91 55.23,30.16 46.80,21.43 38.35,12.72 29.88,4.01 21.40,-4.67 12.91,-13.34 4.39,-21.99" fill="#fff" fill-opacity="0.3"/>
<polygon points="2.53,-20.18 11.04,-11.53 19.53,-2.86 28.01,5.82 36.47,14.52 44.92,23.23 53.34,31.96 61.76,40.70 70.15,49.46 78.53,58.24 86.90,67.03 95.24,75.84 103.57,84.66 111.89,93.50 120.18,102.36 128.47,111.23 136.73,120.11 144.98,129.01 153.21,137.93 161.42,146.86 169.62,155.81 177.80,164.77 185.97,173.75 194.11,182.74 202.25,191.75 210.36,200.78 218.46,209.82 226.54,218.87 234.60,227.94 242.65,237.02 250.68,246.12 258.69,255.24 266.68,264.37 274.66,273.51 282.62,282.67 290.57,291.85 298.50,301.03 306.40,310.24 314.30,319.46 322.17,328.69 330.03,337.94 337.87,347.20 345.69,356.48 353.50,365.77 361.29,375.08 369.06,384.40 376.81,393.73 384.55,403.08 392.27,412.45 399.97,421.82 407.65,431.22 415.32,440.63 422.97,450.05 430.60,459.48 438.21,468.93 445.81,478.40 453.39,487.88 460.95,497.37 468.49,506.87 476.01,516.39 483.52,525.93 491.01,535.48 498.48,545.04 505.93,554.62 513.36,564.21 520.78,573.81 528.18,583.43 535.56,593.06 542.92,602.70 550.27,612.36 557.59,622.04 564.90,631.72 572.19,641.42 579.46,651.13 578.23,652.07 570.96,642.36 563.67,632.66 556.36,622.98 549.04,613.31 541.69,603.65 534.33,594.01 526.96,584.38 519.56,574.76 512.14,565.16 504.71,555.57 497.26,546.00 489.79,536.44 482.30,526.89 474.80,517.36 467.28,507.84 459.74,498.34 452.18,488.85 444.60,479.37 437.01,469.91 429.40,460.46 421.77,451.03 414.12,441.61 406.46,432.20 398.77,422.81 391.07,413.43 383.36,404.07 375.62,394.72 367.87,385.39 360.10,376.07 352.31,366.77 344.51,357.48 336.69,348.20 328.85,338.94 320.99,329.70 313.12,320.46 305.23,311.25 297.32,302.05 289.40,292.86 281.45,283.69 273.49,274.53 265.52,265.39 257.52,256.26 249.51,247.15 241.48,238.05 233.44,228.97 225.38,219.90 217.30,210.85 209.20,201.81 201.09,192.79 192.96,183.78 184.82,174.79 176.65,165.81 168.47,156.85 160.28,147.91 152.07,138.98 143.84,130.06 135.59,121.16 127.33,112.28 119.05,103.41 110.75,94.56 102.44,85.72 94.11,76.90 85.77,68.09 77.40,59.30 69.03,50.53 60.63,41.77 52.22,33.03 43.80,24.30 35.35,15.59 26.89,6.89 18.42,-1.79 9.93,-10.45 1.42,-19.10" fill="#000" fill-opacity="0.25"/>
<g stroke="#008000" stroke-width="2.1" stroke-linecap="round"><line x1="34.86" y1="-51.62" x2="35.65" y2="-52.39"/><line x1="-27.79" y1="9.32" x2="-28.58" y2="10.08"/><line x1="43.42" y1="-42.92" x2="47.59" y2="-46.96"/><line x1="-19.33" y1="17.91" x2="-23.50" y2="21.95"/><line x1="51.97" y1="-34.20" x2="52.76" y2="-34.96"/><line x1="-10.89" y1="26.53" x2="-11.68" y2="27.29"/><line x1="60.50" y1="-25.46" x2="61.29" y2="-26.23"/><line x1="-2.46" y1="35.16" x2="-3.25" y2="35.92"/><line x1="69.01" y1="-16.71" x2="69.81" y2="-17.47"/><line x1="5.95" y1="43.80" x2="5.16" y2="44.57"/><line x1="77.51" y1="-7.94" x2="78.30" y2="-8.70"/><line x1="14.35" y1="52.47" x2="13.55" y2="53.23"/><line x1="85.99" y1="0.84" x2="90.19" y2="-3.16"/><line x1="22.73" y1="61.14" x2="18.53" y2="65.15"/><line x1="94.45" y1="9.64" x2="95.25" y2="8.88"/><line x1="31.09" y1="69.84" x2="30.29" y2="70.59"/><line x1="102.90" y1="18.46" x2="103.70" y2="17.70"/><line x1="39.44" y1="78.55" x2="38.64" y2="79.30"/><line x1="111.33" y1="27.29" x2="112.13" y2="26.53"/><line x1="47.77" y1="87.27" x2="46.97" y2="88.03"/><line x1="119.75" y1="36.14" x2="120.55" y2="35.38"/><line x1="56.08" y1="96.01" x2="55.28" y2="96.76"/><line x1="128.15" y1="45.00" x2="132.38" y2="41.03"/><line x1="64.38" y1="104.77" x2="60.15" y2="108.73"/><line x1="136.53" y1="53.88" x2="137.33" y2="53.13"/><line x1="72.66" y1="113.54" x2="71.86" y2="114.29"/><line x1="144.90" y1="62.77" x2="145.70" y2="62.02"/><line x1="80.93" y1="122.32" x2="80.12" y2="123.07"/><line x1="153.25" y1="71.68" x2="154.05" y2="70.93"/><line x1="89.18" y1="131.13" x2="88.37" y2="131.88"/><line x1="161.58" y1="80.61" x2="162.39" y2="79.86"/><line x1="97.41" y1="139.95" x2="96.60" y2="140.69"/><line x1="169.89" y1="89.55" x2="174.16" y2="85.62"/><line x1="105.62" y1="148.78" x2="101.36" y2="152.71"/><line x1="178.19" y1="98.51" x2="179.00" y2="97.76"/><line x1="113.82" y1="157.63" x2="113.01" y2="158.37"/><line x1="186.48" y1="107.48" x2="187.29" y2="106.74"/><line x1="122.01" y1="166.49" x2="121.19" y2="167.23"/><line x1="194.74" y1="116.47" x2="195.56" y2="115.73"/><line x1="130.17" y1="175.37" x2="129.36" y2="176.11"/><line x1="202.99" y1="125.47" x2="203.81" y2="124.73"/><line x1="138.32" y1="184.27" x2="137.51" y2="185.01"/><line x1="211.22" y1="134.49" x2="215.52" y2="130.60"/><line x1="146.46" y1="193.18" x2="142.16" y2="197.07"/><line x1="219.44" y1="143.53" x2="220.26" y2="142.79"/><line x1="154.57" y1="202.10" x2="153.76" y2="202.84"/><line x1="227.64" y1="152.58" x2="228.46" y2="151.84"/><line x1="162.67" y1="211.04" x2="161.85" y2="211.78"/><line x1="235.82" y1="161.64" x2="236.64" y2="160.91"/><line x1="170.76" y1="220.00" x2="169.94" y2="220.73"/><line x1="243.98" y1="170.72" x2="244.80" y2="169.99"/><line x1="178.82" y1="228.97" x2="178.00" y2="229.70"/><line x1="252.13" y1="179.82" x2="256.46" y2="175.96"/><line x1="186.87" y1="237.95" x2="182.54" y2="241.81"/><line x1="260.26" y1="188.93" x2="261.09" y2="188.20"/><line x1="194.90" y1="246.95" x2="194.08" y2="247.68"/><line x1="268.38" y1="198.05" x2="269.20" y2="197.33"/><line x1="202.92" y1="255.97" x2="202.10" y2="256.70"/><line x1="276.47" y1="207.20" x2="277.30" y2="206.47"/><line x1="210.92" y1="265.00" x2="210.10" y2="265.73"/><line x1="284.55" y1="216.35" x2="285.38" y2="215.63"/><line x1="218.90" y1="274.05" x2="218.08" y2="274.77"/><line x1="292.62" y1="225.52" x2="296.98" y2="221.70"/><line x1="226.87" y1="283.11" x2="222.50" y2="286.93"/><line x1="300.66" y1="234.71" x2="301.49" y2="233.99"/><line x1="234.82" y1="292.18" x2="233.99" y2="292.91"/><line x1="308.69" y1="243.91" x2="309.52" y2="243.19"/><line x1="242.75" y1="301.27" x2="241.92" y2="302.00"/><line x1="316.70" y1="253.13" x2="317.53" y2="252.41"/><line x1="250.66" y1="310.38" x2="249.83" y2="311.10"/><line x1="324.70" y1="262.36" x2="325.53" y2="261.64"/><line x1="258.56" y1="319.50" x2="257.73" y2="320.22"/><line x1="332.67" y1="271.61" x2="337.07" y2="267.82"/><line x1="266.44" y1="328.63" x2="262.05" y2="332.42"/><line x1="340.63" y1="280.87" x2="341.47" y2="280.15"/><line x1="274.30" y1="337.78" x2="273.47" y2="338.50"/><line x1="348.57" y1="290.14" x2="349.41" y2="289.43"/><line x1="282.15" y1="346.95" x2="281.31" y2="347.66"/><line x1="356.50" y1="299.44" x2="357.34" y2="298.72"/><line x1="289.98" y1="356.13" x2="289.14" y2="356.84"/><line x1="364.41" y1="308.74" x2="365.24" y2="308.03"/><line x1="297.79" y1="365.32" x2="296.95" y2="366.03"/><line x1="372.30" y1="318.06" x2="376.72" y2="314.31"/><line x1="305.59" y1="374.53" x2="301.16" y2="378.28"/><line x1="380.17" y1="327.40" x2="381.01" y2="326.69"/><line x1="313.36" y1="383.75" x2="312.52" y2="384.46"/><line x1="388.02" y1="336.75" x2="388.86" y2="336.04"/><line x1="321.12" y1="392.99" x2="320.28" y2="393.70"/><line x1="395.86" y1="346.11" x2="396.70" y2="345.41"/><line x1="328.87" y1="402.24" x2="328.02" y2="402.95"/><line x1="403.68" y1="355.49" x2="404.52" y2="354.79"/><line x1="336.59" y1="411.51" x2="335.75" y2="412.21"/><line x1="411.48" y1="364.89" x2="415.94" y2="361.18"/><line x1="344.30" y1="420.79" x2="339.84" y2="424.50"/><line x1="419.27" y1="374.29" x2="420.11" y2="373.59"/><line x1="351.99" y1="430.08" x2="351.14" y2="430.79"/><line x1="427.03" y1="383.72" x2="427.88" y2="383.02"/><line x1="359.66" y1="439.39" x2="358.81" y2="440.09"/><line x1="434.78" y1="393.15" x2="435.63" y2="392.45"/><line x1="367.32" y1="448.72" x2="366.47" y2="449.42"/><line x1="442.52" y1="402.61" x2="443.37" y2="401.91"/><line x1="374.96" y1="458.05" x2="374.11" y2="458.75"/><line x1="450.23" y1="412.07" x2="454.72" y2="408.40"/><line x1="382.58" y1="467.41" x2="378.09" y2="471.08"/><line x1="457.93" y1="421.55" x2="458.78" y2="420.86"/><line x1="390.18" y1="476.77" x2="389.33" y2="477.47"/><line x1="465.61" y1="431.05" x2="466.46" y2="430.35"/><line x1="397.77" y1="486.15" x2="396.91" y2="486.85"/><line x1="473.27" y1="440.56" x2="474.12" y2="439.86"/><line x1="405.33" y1="495.55" x2="404.48" y2="496.24"/><line x1="480.91" y1="450.08" x2="481.77" y2="449.39"/><line x1="412.89" y1="504.96" x2="412.03" y2="505.65"/><line x1="488.53" y1="459.62" x2="493.06" y2="455.98"/><line x1="420.42" y1="514.38" x2="415.90" y2="518.01"/><line x1="496.14" y1="469.17" x2="497.00" y2="468.48"/><line x1="427.93" y1="523.82" x2="427.08" y2="524.50"/><line x1="503.73" y1="478.73" x2="504.59" y2="478.05"/><line x1="435.43" y1="533.27" x2="434.57" y2="533.95"/><line x1="511.30" y1="488.31" x2="512.16" y2="487.63"/><line x1="442.91" y1="542.73" x2="442.05" y2="543.42"/><line x1="518.86" y1="497.91" x2="519.72" y2="497.22"/><line x1="450.37" y1="552.21" x2="449.51" y2="552.89"/><line x1="526.39" y1="507.52" x2="530.94" y2="503.92"/><line x1="457.82" y1="561.70" x2="453.27" y2="565.30"/><line x1="533.91" y1="517.14" x2="534.77" y2="516.46"/><line x1="465.24" y1="571.21" x2="464.38" y2="571.89"/><line x1="541.41" y1="526.77" x2="542.28" y2="526.10"/><line x1="472.65" y1="580.73" x2="471.79" y2="581.41"/><line x1="548.89" y1="536.42" x2="549.76" y2="535.75"/><line x1="480.04" y1="590.26" x2="479.18" y2="590.94"/><line x1="556.35" y1="546.09" x2="557.22" y2="545.41"/><line x1="563.80" y1="555.77" x2="568.38" y2="552.21"/><line x1="571.23" y1="565.46" x2="572.10" y2="564.78"/><line x1="578.64" y1="575.16" x2="579.51" y2="574.49"/><line x1="586.03" y1="584.88" x2="586.90" y2="584.21"/><line x1="593.40" y1="594.61" x2="594.27" y2="593.95"/><line x1="600.75" y1="604.36" x2="605.36" y2="600.84"/><line x1="608.09" y1="614.12" x2="608.97" y2="613.46"/><line x1="615.41" y1="623.89" x2="616.28" y2="623.23"/></g>
<g stroke="#0000ff" stroke-width="1.1" fill="none"><line x1="78.0" y1="203.5" x2="117.5" y2="177.5"/><line x1="92.3" y1="218.7" x2="133.7" y2="195.0"/><line x1="105.8" y1="233.7" x2="137.0" y2="197.5"/><line x1="120.0" y1="249.5" x2="160.5" y2="224.2"/><line x1="134.2" y1="264.5" x2="178.0" y2="243.7"/><line x1="148.7" y1="281.7" x2="181.2" y2="251.2"/><line x1="162.5" y1="297.5" x2="190.7" y2="257.5"/><line x1="176.7" y1="312.0" x2="213.7" y2="283.2"/><line x1="190.0" y1="327.0" x2="221.2" y2="292.5"/><line x1="203.7" y1="343.7" x2="224.5" y2="297.5"/><line x1="232.0" y1="375.0" x2="266.7" y2="344.5"/><line x1="243.0" y1="389.0" x2="280.5" y2="360.0"/><line x1="258.7" y1="407.0" x2="292.5" y2="374.5"/><line x1="365.5" y1="537.0" x2="402.0" y2="508.0"/></g><g fill="#0000ff" stroke="#0000ff" stroke-width="0.2" font-family="DejaVu Sans, Liberation Sans, sans-serif" font-size="9.6"><text x="33.2" y="208.0" textLength="42.8" lengthAdjust="spacingAndGlyphs">Avi_0572</text><text x="46.2" y="222.5" textLength="42.8" lengthAdjust="spacingAndGlyphs">Avi_0574</text><text x="60.0" y="237.5" textLength="43.0" lengthAdjust="spacingAndGlyphs">Avi_0575</text><text x="74.3" y="253.0" textLength="42.7" lengthAdjust="spacingAndGlyphs">Avi_0577</text><text x="88.2" y="268.0" textLength="43.0" lengthAdjust="spacingAndGlyphs">Avi_0579</text><text x="103.2" y="284.2" textLength="43.0" lengthAdjust="spacingAndGlyphs">Avi_0583</text><text x="117.0" y="300.0" textLength="43.0" lengthAdjust="spacingAndGlyphs">Avi_0584</text><text x="155.7" y="315.5" textLength="19.3" lengthAdjust="spacingAndGlyphs">dinF</text><text x="144.5" y="330.5" textLength="43.0" lengthAdjust="spacingAndGlyphs">Avi_0588</text><text x="158.2" y="346.2" textLength="43.0" lengthAdjust="spacingAndGlyphs">Avi_0589</text><text x="208.2" y="378.0" textLength="21.3" lengthAdjust="spacingAndGlyphs">fadB</text><text x="197.5" y="392.5" textLength="43.0" lengthAdjust="spacingAndGlyphs">Avi_0598</text><text x="240.5" y="410.5" textLength="16.5" lengthAdjust="spacingAndGlyphs">acd</text><text x="342.5" y="542.0" textLength="21.2" lengthAdjust="spacingAndGlyphs">pleD</text></g>
<g stroke="#ff0000" stroke-width="1.1" fill="none"><line x1="261.2" y1="103.2" x2="226.2" y2="134.2"/><line x1="288.2" y1="133.0" x2="253.0" y2="164.5"/><line x1="310.7" y1="159.5" x2="279.2" y2="193.0"/><line x1="325.7" y1="173.7" x2="285.0" y2="200.0"/><line x1="340.0" y1="190.0" x2="313.0" y2="231.2"/><line x1="355.0" y1="207.5" x2="320.5" y2="240.0"/><line x1="367.5" y1="222.5" x2="327.5" y2="248.7"/><line x1="381.2" y1="237.5" x2="337.5" y2="260.0"/><line x1="433.7" y1="300.0" x2="400.5" y2="334.2"/><line x1="446.7" y1="315.7" x2="422.5" y2="360.5"/><line x1="459.2" y1="330.7" x2="429.2" y2="369.2"/><line x1="472.0" y1="345.5" x2="439.5" y2="382.0"/><line x1="483.0" y1="360.5" x2="449.5" y2="394.2"/><line x1="495.0" y1="374.5" x2="454.2" y2="399.5"/><line x1="507.5" y1="390.0" x2="462.0" y2="409.2"/><line x1="522.5" y1="408.3" x2="473.0" y2="423.1"/><line x1="534.2" y1="423.3" x2="498.2" y2="455.0"/><line x1="545.7" y1="437.5" x2="504.5" y2="462.5"/><line x1="559.2" y1="453.2" x2="517.5" y2="479.2"/></g><g fill="#ff0000" stroke="#ff0000" stroke-width="0.2" font-family="DejaVu Sans, Liberation Sans, sans-serif" font-size="9.6"><text x="263.7" y="102.5" textLength="42.7" lengthAdjust="spacingAndGlyphs">Avi_0576</text><text x="290.5" y="133.0" textLength="42.7" lengthAdjust="spacingAndGlyphs">Avi_0578</text><text x="313.2" y="157.5" textLength="42.8" lengthAdjust="spacingAndGlyphs">Avi_0585</text><text x="327.5" y="173.7" textLength="20.5" lengthAdjust="spacingAndGlyphs">pyrD</text><text x="342.5" y="190.5" textLength="42.7" lengthAdjust="spacingAndGlyphs">Avi_0591</text><text x="357.5" y="207.5" textLength="42.8" lengthAdjust="spacingAndGlyphs">Avi_0592</text><text x="369.5" y="221.7" textLength="42.8" lengthAdjust="spacingAndGlyphs">Avi_0593</text><text x="383.2" y="237.5" textLength="42.8" lengthAdjust="spacingAndGlyphs">Avi_0596</text><text x="436.2" y="299.5" textLength="42.7" lengthAdjust="spacingAndGlyphs">Avi_0601</text><text x="449.2" y="315.5" textLength="42.8" lengthAdjust="spacingAndGlyphs">Avi_0602</text><text x="461.7" y="330.2" textLength="42.8" lengthAdjust="spacingAndGlyphs">Avi_0603</text><text x="474.3" y="345.5" textLength="42.9" lengthAdjust="spacingAndGlyphs">Avi_0605</text><text x="486.0" y="359.5" textLength="42.7" lengthAdjust="spacingAndGlyphs">Avi_0606</text><text x="497.5" y="374.5" textLength="42.7" lengthAdjust="spacingAndGlyphs">Avi_0607</text><text x="510.7" y="389.5" textLength="42.7" lengthAdjust="spacingAndGlyphs">Avi_0608</text><text x="524.5" y="408.5" textLength="42.8" lengthAdjust="spacingAndGlyphs">Avi_0609</text><text x="536.2" y="423.5" textLength="43.0" lengthAdjust="spacingAndGlyphs">Avi_0612</text><text x="548.2" y="437.5" textLength="42.8" lengthAdjust="spacingAndGlyphs">Avi_0614</text><text x="561.2" y="453.2" textLength="12.0" lengthAdjust="spacingAndGlyphs">lhr</text></g>
<g font-family="DejaVu Sans, Liberation Sans, sans-serif" font-size="7.4" fill="#000" stroke="#000" stroke-width="0.15"><rect x="30.2" y="114.5" width="35.0" height="9.5" fill="#fff" fill-opacity="0.7" stroke="none"/><text x="31.2" y="122.0" textLength="33.0" lengthAdjust="spacing">485 kbp</text><rect x="71.5" y="157.1" width="34.5" height="9.5" fill="#fff" fill-opacity="0.7" stroke="none"/><text x="72.5" y="164.6" textLength="32.5" lengthAdjust="spacing">490 kbp</text><rect x="112.7" y="201.2" width="34.1" height="9.5" fill="#fff" fill-opacity="0.7" stroke="none"/><text x="113.7" y="208.7" textLength="32.1" lengthAdjust="spacing">495 kbp</text><rect x="153.7" y="246.2" width="33.8" height="9.5" fill="#fff" fill-opacity="0.7" stroke="none"/><text x="154.7" y="253.7" textLength="31.8" lengthAdjust="spacing">500 kbp</text><rect x="193.7" y="291.2" width="34.0" height="9.5" fill="#fff" fill-opacity="0.7" stroke="none"/><text x="194.7" y="298.7" textLength="32.0" lengthAdjust="spacing">505 kbp</text><rect x="232.7" y="336.2" width="34.5" height="9.5" fill="#fff" fill-opacity="0.7" stroke="none"/><text x="233.7" y="343.7" textLength="32.5" lengthAdjust="spacing">510 kbp</text><rect x="271.5" y="382.2" width="34.2" height="9.5" fill="#fff" fill-opacity="0.7" stroke="none"/><text x="272.5" y="389.7" textLength="32.2" lengthAdjust="spacing">515 kbp</text><rect x="309.8" y="428.0" width="34.2" height="9.5" fill="#fff" fill-opacity="0.7" stroke="none"/><text x="310.8" y="435.5" textLength="32.2" lengthAdjust="spacing">520 kbp</text><rect x="347.7" y="474.5" width="34.5" height="9.5" fill="#fff" fill-opacity="0.7" stroke="none"/><text x="348.7" y="482.0" textLength="32.5" lengthAdjust="spacing">525 kbp</text><rect x="384.5" y="521.2" width="34.2" height="9.5" fill="#fff" fill-opacity="0.7" stroke="none"/><text x="385.5" y="528.7" textLength="32.2" lengthAdjust="spacing">530 kbp</text><rect x="421.5" y="568.7" width="34.5" height="9.5" fill="#fff" fill-opacity="0.7" stroke="none"/><text x="422.5" y="576.2" textLength="32.5" lengthAdjust="spacing">535 kbp</text></g>
<rect x="99" y="9" width="401" height="21" fill="#fff" fill-opacity="0.82"/><text y="23.0" font-family="DejaVu Sans, Liberation Sans, sans-serif" font-size="12" font-style="italic" fill="#000"><tspan x="103.7" textLength="103.3" lengthAdjust="spacingAndGlyphs">Agrobacterium</tspan> <tspan x="211.2" textLength="23.8" lengthAdjust="spacingAndGlyphs">vitis</tspan> <tspan x="242.0" textLength="14.0" lengthAdjust="spacingAndGlyphs">S4</tspan> <tspan x="264.2" textLength="85.8" lengthAdjust="spacingAndGlyphs">chromosome</tspan> <tspan x="357.0" textLength="10.5" lengthAdjust="spacingAndGlyphs">1,</tspan> <tspan x="375.0" textLength="60.0" lengthAdjust="spacingAndGlyphs">complete</tspan> <tspan x="441.2" textLength="53.4" lengthAdjust="spacingAndGlyphs">genome</tspan></text>
<rect x="256" y="571.3" width="336" height="22.9" fill="#fff" fill-opacity="0.8"/><text y="586.7" font-family="DejaVu Sans, Liberation Sans, sans-serif" font-size="12" fill="#000"><tspan x="9.5" textLength="58.0" lengthAdjust="spacingAndGlyphs">Accession:</tspan> <tspan x="73.7" textLength="70.0" lengthAdjust="spacingAndGlyphs">NC_011989</tspan></text><text y="586.7" font-family="DejaVu Sans, Liberation Sans, sans-serif" font-size="12" fill="#000"><tspan x="261.4" textLength="54.8" lengthAdjust="spacingAndGlyphs">Topology:</tspan> <tspan x="322.6" textLength="43.8" lengthAdjust="spacingAndGlyphs">circular;</tspan> <tspan x="372.2" textLength="40.2" lengthAdjust="spacingAndGlyphs">Length:</tspan> <tspan x="417.9" textLength="62.4" lengthAdjust="spacingAndGlyphs">3,726,375</tspan> <tspan x="487.0" textLength="18.0" lengthAdjust="spacingAndGlyphs">bp;</tspan> <tspan x="510.7" textLength="37.7" lengthAdjust="spacingAndGlyphs">Genes:</tspan> <tspan x="554.7" textLength="34.2" lengthAdjust="spacingAndGlyphs">3,287</tspan></text>
</svg></body></html>
